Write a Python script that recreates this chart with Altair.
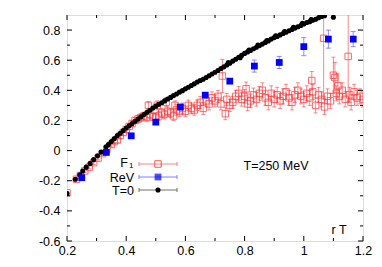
import altair as alt
import pandas as pd

# ---------------- data ----------------
# T=0 (black)
t0_r = [0.200, 0.228, 0.243, 0.253, 0.265, 0.278, 0.290, 0.303, 0.315, 0.332,
        0.34, 0.35, 0.36, 0.37, 0.38, 0.39, 0.40, 0.41, 0.42, 0.43,
        0.44, 0.45, 0.46, 0.47, 0.48, 0.49, 0.50, 0.51, 0.52, 0.53,
        0.54, 0.55, 0.56, 0.57, 0.58, 0.59, 0.60, 0.61, 0.62, 0.63,
        0.64, 0.65, 0.66, 0.67, 0.68, 0.69, 0.70, 0.71, 0.72, 0.73,
        0.74, 0.75, 0.76, 0.77, 0.78, 0.79, 0.80, 0.81, 0.82, 0.83,
        0.84, 0.85, 0.86, 0.87, 0.88, 0.89, 0.90, 0.91, 0.92, 0.93,
        0.94, 0.95, 0.96, 0.97, 0.98, 0.99, 1.00, 1.01, 1.02, 1.03,
        1.04, 1.05, 1.06, 1.065, 1.07, 1.10,
        0.745, 0.785, 0.815, 0.845, 0.875, 0.905, 0.935, 0.965, 0.995, 1.025, 1.055]
t0_v = [-0.285, -0.190, -0.160, -0.135, -0.110, -0.085, -0.060, -0.035, -0.010, 0.025,
        0.040, 0.060, 0.080, 0.100, 0.115, 0.133, 0.150, 0.165, 0.180, 0.195,
        0.210, 0.225, 0.240, 0.255, 0.268, 0.282, 0.295, 0.307, 0.318, 0.330,
        0.342, 0.353, 0.365, 0.376, 0.388, 0.398, 0.410, 0.420, 0.432, 0.443,
        0.455, 0.465, 0.474, 0.485, 0.497, 0.508, 0.520, 0.532, 0.545, 0.556,
        0.568, 0.580, 0.594, 0.606, 0.620, 0.632, 0.645, 0.655, 0.665, 0.676,
        0.686, 0.697, 0.707, 0.718, 0.728, 0.740, 0.750, 0.758, 0.768, 0.777,
        0.786, 0.795, 0.804, 0.813, 0.822, 0.830, 0.840, 0.850, 0.856, 0.865,
        0.872, 0.882, 0.890, 0.900, 0.895, 0.885,
        0.585, 0.616, 0.668, 0.700, 0.730, 0.762, 0.790, 0.818, 0.845, 0.870, 0.892]

# ReV (blue)
rev_r = [0.250, 0.333, 0.417, 0.500, 0.583, 0.667, 0.750, 0.833, 0.917, 1.000, 1.083, 1.167]
rev_v = [-0.180, -0.012, 0.098, 0.189, 0.289, 0.368, 0.461, 0.561, 0.585, 0.690, 0.740, 0.740]
rev_e = [0.010, 0.010, 0.015, 0.015, 0.015, 0.015, 0.015, 0.040, 0.040, 0.060, 0.060, 0.050]

# F1 (red)
f1_r = [0.200, 0.232, 0.245, 0.260, 0.275, 0.290, 0.305, 0.320, 0.335, 0.350,
        0.360, 0.370, 0.380, 0.390, 0.400, 0.410, 0.420, 0.430, 0.440, 0.450,
        0.460, 0.470, 0.475, 0.480, 0.490, 0.500, 0.505, 0.510, 0.520, 0.530,
        0.535, 0.540, 0.550, 0.560, 0.565, 0.570, 0.580, 0.590, 0.600, 0.610,
        0.620, 0.630, 0.640, 0.650, 0.660, 0.670, 0.680, 0.690, 0.700, 0.710,
        0.720, 0.725, 0.735, 0.740, 0.750, 0.760, 0.770, 0.780, 0.790, 0.800,
        0.805, 0.810, 0.820, 0.830, 0.840, 0.850, 0.860, 0.870, 0.880, 0.890,
        0.900, 0.910, 0.920, 0.930, 0.940, 0.950, 0.960, 0.970, 0.980, 0.990,
        1.000, 1.010, 1.020, 1.027, 1.030, 1.040, 1.050, 1.060, 1.067, 1.070,
        1.080, 1.090, 1.100, 1.105, 1.110, 1.115, 1.120, 1.130, 1.140, 1.150,
        1.155, 1.160, 1.170, 1.180, 1.190, 1.200]
f1_v = [-0.280, -0.190, -0.165, -0.135, -0.110, -0.080, -0.050, -0.020, 0.010, 0.040,
        0.060, 0.070, 0.100, 0.120, 0.140, 0.160, 0.180, 0.200, 0.210, 0.220,
        0.230, 0.220, 0.300, 0.240, 0.225, 0.220, 0.300, 0.230, 0.250, 0.240,
        0.320, 0.260, 0.250, 0.230, 0.300, 0.270, 0.260, 0.280, 0.260, 0.300,
        0.280, 0.270, 0.300, 0.320, 0.280, 0.330, 0.310, 0.350, 0.330, 0.360,
        0.310, 0.495, 0.245, 0.340, 0.300, 0.320, 0.360, 0.380, 0.340, 0.360,
        0.410, 0.310, 0.330, 0.370, 0.340, 0.380, 0.400, 0.350, 0.320, 0.380,
        0.340, 0.370, 0.330, 0.360, 0.390, 0.350, 0.320, 0.370, 0.400, 0.360,
        0.340, 0.380, 0.350, 0.465, 0.390, 0.300, 0.370, 0.340, 0.745, 0.290,
        0.360, 0.330, 0.500, 0.485, 0.380, 0.430, 0.360, 0.400, 0.340, 0.625,
        0.370, 0.320, 0.390, 0.350, 0.360, 0.340]
f1_e = [0.008, 0.010, 0.010, 0.010, 0.010, 0.012, 0.012, 0.012, 0.015, 0.015,
        0.015, 0.015, 0.020, 0.020, 0.020, 0.020, 0.020, 0.020, 0.025, 0.025,
        0.025, 0.025, 0.025, 0.025, 0.025, 0.030, 0.030, 0.030, 0.030, 0.030,
        0.030, 0.030, 0.030, 0.030, 0.030, 0.035, 0.035, 0.035, 0.035, 0.035,
        0.035, 0.035, 0.035, 0.040, 0.040, 0.040, 0.040, 0.040, 0.040, 0.040,
        0.040, 0.110, 0.040, 0.040, 0.040, 0.040, 0.040, 0.045, 0.045, 0.045,
        0.045, 0.045, 0.045, 0.045, 0.045, 0.045, 0.050, 0.050, 0.050, 0.050,
        0.050, 0.050, 0.050, 0.050, 0.050, 0.050, 0.050, 0.050, 0.050, 0.050,
        0.050, 0.050, 0.050, 0.060, 0.050, 0.050, 0.050, 0.050, 0.400, 0.050,
        0.050, 0.050, 0.120, 0.100, 0.050, 0.080, 0.050, 0.050, 0.050, 0.300,
        0.050, 0.050, 0.050, 0.050, 0.050, 0.050]

x_major = [0.2, 0.4, 0.6, 0.8, 1.0, 1.2]
x_minor = [0.3, 0.5, 0.7, 0.9, 1.1]
y_major = [-0.6, -0.4, -0.2, 0.0, 0.2, 0.4, 0.6, 0.8]
y_minor = [-0.5, -0.3, -0.1, 0.1, 0.3, 0.5, 0.7]

legend_labels = ["ReV", "T=0"]
annotation = "T=250 MeV"
x_label = "r T"

# ---------------- layout ----------------
W, H = 296, 226
FONT = "Liberation Sans"
FS = 12.5
RED = "#ff3a3a"
BLUE = "#0000ff"

xs = alt.Scale(domain=[0.2, 1.2], nice=False, zero=False)
ys = alt.Scale(domain=[-0.6, 0.9], nice=False, zero=False)

lab = "round(datum.value*10)/10 == 0 ? '0' : toString(round(datum.value*10)/10)"
xax = alt.Axis(values=x_major, ticks=False, domain=False, grid=False, labelExpr=lab,
               labelPadding=3, labelFont=FONT, labelFontSize=FS, labelColor="black",
               title=None, labelFlush=False, labelOverlap=False)
yax = alt.Axis(values=y_major, ticks=False, domain=False, grid=False, labelExpr=lab,
               labelPadding=7, labelFont=FONT, labelFontSize=FS, labelColor="black",
               title=None, labelOverlap=False)


def XQ(field):
    return alt.X(field, type="quantitative", scale=xs, axis=xax)


def YQ(field):
    return alt.Y(field, type="quantitative", scale=ys, axis=yax)


df_t0 = pd.DataFrame({"r": t0_r, "v": t0_v})
df_rev = pd.DataFrame({"r": rev_r, "v": rev_v, "e": rev_e})
df_rev["lo"] = df_rev.v - df_rev.e
df_rev["hi"] = df_rev.v + df_rev.e
df_f1 = pd.DataFrame({"r": f1_r, "v": f1_v, "e": f1_e})
df_f1["lo"] = df_f1.v - df_f1.e
df_f1["hi"] = df_f1.v + df_f1.e

# F1
f1_bar = alt.Chart(df_f1).mark_rule(color=RED, opacity=0.6, strokeWidth=1, clip=True).encode(
    x=XQ("r"), y=YQ("lo"), y2="hi:Q")
f1_cap_lo = alt.Chart(df_f1).mark_tick(color=RED, opacity=0.6, orient="horizontal", size=4,
                                        thickness=1, clip=True).encode(x=XQ("r"), y=YQ("lo"))
f1_cap_hi = alt.Chart(df_f1).mark_tick(color=RED, opacity=0.6, orient="horizontal", size=4,
                                        thickness=1, clip=True).encode(x=XQ("r"), y=YQ("hi"))
f1_pts = alt.Chart(df_f1).mark_square(filled=False, color=RED, opacity=0.75, size=42,
                                      strokeWidth=1, clip=True).encode(x=XQ("r"), y=YQ("v"))

# T=0
t0_pts = alt.Chart(df_t0).mark_circle(color="black", opacity=1, size=26, clip=True).encode(
    x=XQ("r"), y=YQ("v"))

# ReV
rev_bar = alt.Chart(df_rev).mark_rule(color="#7070ff", opacity=0.8, strokeWidth=1, clip=True).encode(
    x=XQ("r"), y=YQ("lo"), y2="hi:Q")
rev_cap_lo = alt.Chart(df_rev).mark_tick(color="#7070ff", opacity=0.8, orient="horizontal", size=5,
                                          thickness=1, clip=True).encode(x=XQ("r"), y=YQ("lo"))
rev_cap_hi = alt.Chart(df_rev).mark_tick(color="#7070ff", opacity=0.8, orient="horizontal", size=5,
                                          thickness=1, clip=True).encode(x=XQ("r"), y=YQ("hi"))
rev_pts = alt.Chart(df_rev).mark_square(filled=True, color=BLUE, opacity=1, size=46, clip=True).encode(
    x=XQ("r"), y=YQ("v"))


# inward ticks on all four sides
def ticks(vals, length, side):
    d = pd.DataFrame({"t": vals})
    c = alt.Chart(d).mark_rule(color="black", strokeWidth=1)
    if side == "bottom":
        return c.encode(x=XQ("t"), y=alt.value(H), y2=alt.value(H - length))
    if side == "top":
        return c.encode(x=XQ("t"), y=alt.value(0), y2=alt.value(length))
    if side == "left":
        return c.encode(y=YQ("t"), x=alt.value(0), x2=alt.value(length))
    return c.encode(y=YQ("t"), x=alt.value(W), x2=alt.value(W - length))


tick_layers = []
for side in ["bottom", "top"]:
    tick_layers.append(ticks(x_major, 5, side))
    tick_layers.append(ticks(x_minor, 3, side))
for side in ["left", "right"]:
    tick_layers.append(ticks(y_major, 5, side))
    tick_layers.append(ticks(y_minor, 3, side))

# legend (drawn by hand, inside the plot)
leg_rows = [149, 162, 175]
leg_x0, leg_x1, leg_xm, leg_txt = 72, 110, 91, 67
leg_colors = ["#ff8080", "#8080ff", "#707070"]
one = pd.DataFrame({"a": [0]})
leg_layers = []
for yy, col in zip(leg_rows, leg_colors):
    leg_layers.append(alt.Chart(one).mark_rule(color=col, strokeWidth=1).encode(
        x=alt.value(leg_x0), x2=alt.value(leg_x1), y=alt.value(yy)))
    for xx in (leg_x0, leg_x1):
        leg_layers.append(alt.Chart(one).mark_rule(color=col, strokeWidth=1).encode(
            x=alt.value(xx), y=alt.value(yy - 2), y2=alt.value(yy + 2)))
leg_layers.append(alt.Chart(one).mark_square(filled=False, color=RED, opacity=0.85, size=42,
                                             strokeWidth=1).encode(
    x=alt.value(leg_xm), y=alt.value(leg_rows[0])))
leg_layers.append(alt.Chart(one).mark_square(filled=True, color=BLUE, size=46).encode(
    x=alt.value(leg_xm), y=alt.value(leg_rows[1])))
leg_layers.append(alt.Chart(one).mark_circle(color="black", opacity=1, size=26).encode(
    x=alt.value(leg_xm), y=alt.value(leg_rows[2])))
# F with subscript 1
leg_layers.append(alt.Chart(one).mark_text(text="F", font=FONT, fontSize=FS, align="right",
                                           baseline="middle", color="black").encode(
    x=alt.value(leg_txt - 6), y=alt.value(leg_rows[0] - 1)))
leg_layers.append(alt.Chart(one).mark_text(text="1", font=FONT, fontSize=8, align="left",
                                           baseline="middle", color="black").encode(
    x=alt.value(leg_txt - 5), y=alt.value(leg_rows[0] + 2)))
for yy, t in zip(leg_rows[1:], legend_labels):
    leg_layers.append(alt.Chart(one).mark_text(text=t, font=FONT, fontSize=FS, align="right",
                                               baseline="middle", color="black").encode(
        x=alt.value(leg_txt), y=alt.value(yy + 1)))

ann = alt.Chart(one).mark_text(text=annotation, font=FONT, fontSize=FS, align="center",
                               baseline="middle", color="black").encode(
    x=alt.value(209), y=alt.value(151))
xl = alt.Chart(one).mark_text(text=x_label, font=FONT, fontSize=FS, align="center",
                              baseline="middle", color="black").encode(
    x=alt.value(272), y=alt.value(215))

chart = alt.layer(
    f1_bar, f1_cap_lo, f1_cap_hi, f1_pts,
    t0_pts,
    rev_bar, rev_cap_lo, rev_cap_hi, rev_pts,
    *tick_layers, *leg_layers, ann, xl,
).properties(
    width=W, height=H,
    autosize=alt.AutoSizeParams(type="none"),
    padding={"left": 59, "top": 7, "right": 11, "bottom": 18},
).configure_view(stroke="black", strokeWidth=1).configure_axis(
    labelOverlap=False, grid=False, ticks=False, domain=False
).configure(background="white")

chart.save("out.html", embed_options={"renderer": "svg", "actions": False})
